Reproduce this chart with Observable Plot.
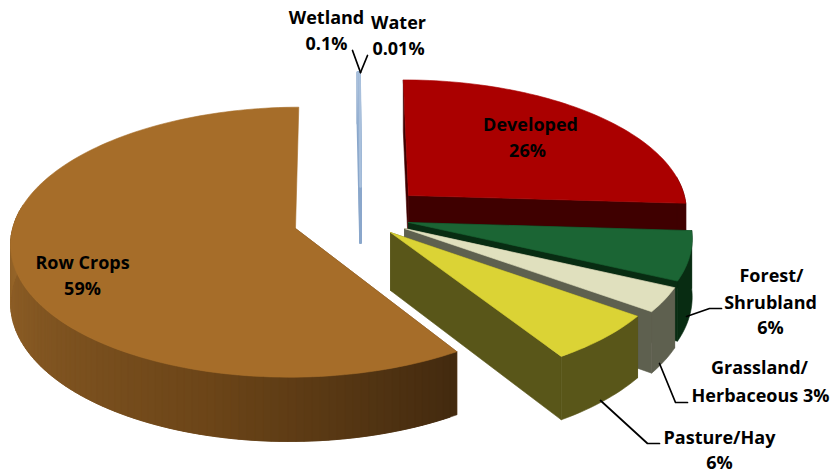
<!DOCTYPE html>
<html>
<head>
<meta charset="utf-8">
<script src="https://cdn.jsdelivr.net/npm/d3@7"></script>
<script src="https://cdn.jsdelivr.net/npm/@observablehq/plot@0.6"></script>
<style>
  html, body { margin: 0; padding: 0; background: #fff; }
</style>
</head>
<body>
<div id="chart"></div>
<script>
// Land use shares, clockwise from twelve o'clock.
const categories = ["Developed", "Forest/Shrubland", "Grassland/Herbaceous", "Pasture/Hay", "Row Crops", "Wetland", "Water"];
const shares = [26, 6, 3, 6, 59, 0.1, 0.01];

const topColors = ["#aa0000", "#1b6534", "#e0e0be", "#dbd335", "#a66d29", "#a9c0dc", "#a9c0dc"];
const wallColors = ["#3f0000", "#082c12", "#5e604f", "#595619", "#6c4518", "#8aa7cb", "#8aa7cb"];
// The row crop rim darkens as it sweeps from left to right.
const rowCropRim = ["#432a0f", "#6c4518", "#96652a"];

// Where each pulled-out slice keeps its point, in canvas units.
const apexX = [408, 408, 404, 390, 295, 360, 360];
const apexY = [195, 222, 228, 232, 228, 186, 186];

// Perspective tilted disc.
const centerX = 350, centerY = 210, radiusX = 279, radiusY = 130, perspective = 0.1, thickness = 57;

const toCanvas = (wx, wy) => {
  const s = 1 / (1 + perspective * wy);
  return {x: centerX + radiusX * wx * s, y: centerY - radiusY * wy * s, s};
};
const toDisc = (px, py) => {
  const dy = py - centerY;
  const wy = -dy / (radiusY + perspective * dy);
  const s = 1 / (1 + perspective * wy);
  return {wx: (px - centerX) / (radiusX * s), wy};
};

const total = d3.sum(shares);
const edges = d3.cumsum(shares).map((c) => (c / total) * 2 * Math.PI);

// Slices and walls become polygons, listed back to front.
const polygons = [];
const thinPolygons = [];
let polygonId = 0;

function addPolygon(list, points, color) {
  const id = polygonId++;
  for (const p of [...points, points[0]]) list.push({x: p.x, y: p.y, id, color});
}
const drop = (p) => ({x: p.x, y: p.y + thickness * p.s});

function addSlice(i, list) {
  const start = i === 0 ? 0 : edges[i - 1];
  const end = edges[i];
  const isRowCrops = categories[i] === "Row Crops";
  const origin = toDisc(apexX[i], apexY[i]);
  const apex = toCanvas(origin.wx, origin.wy);
  const steps = Math.max(1, Math.ceil((end - start) / (Math.PI / 120)));
  const angles = d3.range(steps + 1).map((k) => start + ((end - start) * k) / steps);
  const rim = angles.map((a) => toCanvas(origin.wx + Math.sin(a), origin.wy + Math.cos(a)));
  const span = end - start;
  const shade = d3.scaleLinear()
    .domain([start, start + span * 0.22, start + span * 0.6])
    .range(rowCropRim)
    .clamp(true);

  addPolygon(list, [apex, rim[0], drop(rim[0]), drop(apex)], wallColors[i]);
  if (!isRowCrops) addPolygon(list, [apex, rim[steps], drop(rim[steps]), drop(apex)], wallColors[i]);

  // Only the part of the rim that faces the viewer gets a wall.
  const front = d3.range(steps + 1).filter((k) => Math.cos(angles[k]) < 0.15);
  if (isRowCrops) {
    // Each band runs under the next one so no gaps show between them.
    for (const k of front) {
      const next = Math.min(k + 2, steps);
      if (next > k) addPolygon(list, [rim[k], rim[next], drop(rim[next]), drop(rim[k])], shade(angles[k]));
    }
  } else if (front.length > 1) {
    const arc = front.map((k) => rim[k]);
    addPolygon(list, [...arc, ...arc.map(drop).reverse()], wallColors[i]);
  } else {
    addPolygon(list, [rim[0], rim[steps], drop(rim[steps]), drop(rim[0])], wallColors[i]);
  }
  addPolygon(list, [apex, ...rim], topColors[i]);
}

[5, 6].forEach((i) => addSlice(i, thinPolygons));
[0, 1, 2, 3, 4].forEach((i) => addSlice(i, polygons));

const pct = (name) => shares[categories.indexOf(name)] + "%";

const labelLines = [
  {text: "Wetland", x: 326, y: 18},
  {text: pct("Wetland"), x: 326, y: 44},
  {text: "Water", x: 398, y: 23},
  {text: pct("Water"), x: 398, y: 49},
  {text: "Developed", x: 530, y: 125},
  {text: pct("Developed"), x: 527, y: 151},
  {text: "Row Crops", x: 82, y: 263},
  {text: pct("Row Crops"), x: 82, y: 289},
  {text: "Forest/", x: 771, y: 276},
  {text: "Shrubland", x: 770, y: 303},
  {text: pct("Forest/Shrubland"), x: 770, y: 328},
  {text: "Grassland/", x: 759, y: 368},
  {text: "Herbaceous " + pct("Grassland/Herbaceous"), x: 760, y: 396},
  {text: "Pasture/Hay", x: 719, y: 438},
  {text: pct("Pasture/Hay"), x: 719, y: 463}
];

const leaders = [
  {id: "wetland", x: 352, y: 50}, {id: "wetland", x: 360, y: 72},
  {id: "water", x: 367, y: 55}, {id: "water", x: 360, y: 72},
  {id: "forest", x: 686, y: 316}, {id: "forest", x: 709, y: 308}, {id: "forest", x: 721, y: 308},
  {id: "grass", x: 659, y: 363}, {id: "grass", x: 675, y: 402}, {id: "grass", x: 687, y: 402},
  {id: "pasture", x: 600, y: 400}, {id: "pasture", x: 647, y: 443}, {id: "pasture", x: 659, y: 443}
];

const chart = Plot.plot({
  width: 833,
  height: 474,
  margin: 0,
  x: {domain: [0, 833], range: [0, 833], axis: null},
  y: {domain: [0, 474], range: [0, 474], axis: null},
  color: {type: "identity"},
  style: {background: "#fff"},
  marks: [
    Plot.line(thinPolygons, {x: "x", y: "y", z: "id", fill: "color", stroke: "color", strokeWidth: 2.6, curve: "linear"}),
    Plot.line(polygons, {x: "x", y: "y", z: "id", fill: "color", stroke: "color", strokeWidth: 0.6, curve: "linear"}),
    Plot.line(leaders, {x: "x", y: "y", z: "id", stroke: "#000", strokeWidth: 1.7}),
    Plot.text(labelLines, {
      x: "x", y: "y", text: "text", fill: "#000",
      fontFamily: "'Open Sans', sans-serif", fontWeight: 700, fontSize: 18, lineAnchor: "middle"
    })
  ]
});
document.getElementById("chart").append(chart);
</script>
</body>
</html>
